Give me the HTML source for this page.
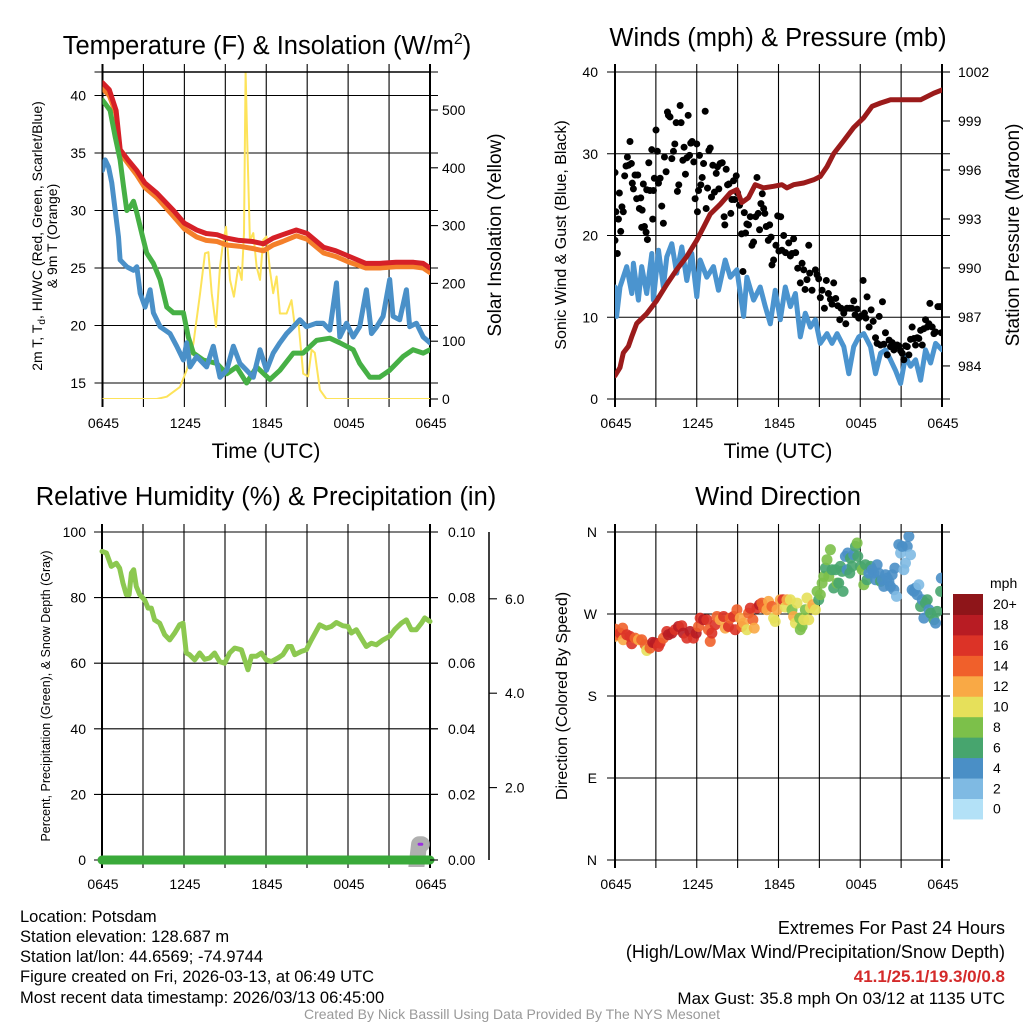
<!DOCTYPE html>
<html><head><meta charset="utf-8"><title>Mesonet Station Meteogram</title>
<style>
html,body{margin:0;padding:0;background:#fff;}
svg{display:block;font-family:"Liberation Sans",Arial,sans-serif;}
</style></head>
<body>
<svg id="chart" xmlns="http://www.w3.org/2000/svg" width="1024" height="1024" viewBox="0 0 1024 1024">
<defs>
<clipPath id="c1"><rect x="102.5" y="72" width="327.5" height="327"/></clipPath>
<clipPath id="c2"><rect x="615" y="72" width="327" height="327"/></clipPath>
<clipPath id="c3"><rect x="96" y="532" width="342" height="335"/></clipPath>
<clipPath id="c4"><rect x="615" y="532" width="327" height="328"/></clipPath>
</defs>
<rect width="1024" height="1024" fill="#fff"/>
<g id="grids"></g>
<g id="marks"></g>
<g id="axes"></g>

<!-- titles -->
<text x="267" y="54" font-size="25.5" text-anchor="middle">Temperature (F) &amp; Insolation (W/m<tspan font-size="16" dy="-10">2</tspan><tspan dy="10">)</tspan></text>
<text x="778" y="46" font-size="25.5" text-anchor="middle">Winds (mph) &amp; Pressure (mb)</text>
<text x="266" y="505" font-size="25.5" text-anchor="middle">Relative Humidity (%) &amp; Precipitation (in)</text>
<text x="778" y="505" font-size="25.5" text-anchor="middle">Wind Direction</text>

<!-- axis titles -->
<text x="266" y="458" font-size="21" text-anchor="middle">Time (UTC)</text>
<text x="778" y="458" font-size="21" text-anchor="middle">Time (UTC)</text>
<g transform="translate(42,236) rotate(-90)">
<text x="0" y="0" font-size="14" text-anchor="middle">2m T, T<tspan font-size="10" dy="3">d</tspan><tspan dy="-3">, HI/WC (Red, Green, Scarlet/Blue)</tspan></text>
<text x="0" y="15" font-size="14" text-anchor="middle">&amp; 9m T (Orange)</text>
</g>
<text transform="translate(501,235) rotate(-90)" font-size="19" text-anchor="middle">Solar Insolation (Yellow)</text>
<text transform="translate(566,235) rotate(-90)" font-size="16" text-anchor="middle">Sonic Wind &amp; Gust (Blue, Black)</text>
<text transform="translate(1019,235) rotate(-90)" font-size="19" text-anchor="middle">Station Pressure (Maroon)</text>
<text transform="translate(50,696) rotate(-90)" font-size="12.5" text-anchor="middle">Percent, Precipitation (Green), &amp; Snow Depth (Gray)</text>
<text transform="translate(567,696) rotate(-90)" font-size="16" text-anchor="middle">Direction (Colored By Speed)</text>

<!-- colorbar -->
<text x="990" y="588" font-size="14">mph</text>
<g id="colorbar"></g>

<!-- footer -->
<g font-size="16.5">
<text x="20" y="922">Location: Potsdam</text>
<text x="20" y="942">Station elevation: 128.687 m</text>
<text x="20" y="962">Station lat/lon: 44.6569; -74.9744</text>
<text x="20" y="982">Figure created on Fri, 2026-03-13, at 06:49 UTC</text>
<text x="20" y="1003">Most recent data timestamp: 2026/03/13 06:45:00</text>
</g>
<g font-size="18" text-anchor="end">
<text x="1005" y="934">Extremes For Past 24 Hours</text>
<text x="1005" y="958">(High/Low/Max Wind/Precipitation/Snow Depth)</text>
<text x="1005" y="982" fill="#d42a2a" font-weight="bold" font-size="17">41.1/25.1/19.3/0/0.8</text>
<text x="1005" y="1004" font-size="17">Max Gust: 35.8 mph On 03/12 at 1135 UTC</text>
</g>
<text x="512" y="1019" font-size="14" fill="#999" text-anchor="middle">Created By Nick Bassill Using Data Provided By The NYS Mesonet</text>
</svg>

<script>
// ---------- DATA ----------
const xTickLabels = ["0645","1245","1845","0045","0645"];
const xTickHours = [0,6,12,18,24];
const tempTicks = [15,20,25,30,35,40];
const solarTicks = [0,100,200,300,400,500];
const windTicks = [0,10,20,30,40];
const pressTicks = [984,987,990,993,996,999,1002];
const rhTicks = [0,20,40,60,80,100];
const precipTickLabels = ["0.00","0.02","0.04","0.06","0.08","0.10"];
const snowTicks = [2,4,6];
const dirTicks = [0,90,180,270,360];
const dirTickLabels = ["N","E","S","W","N"];
const speedBinLabels = ["0","2","4","6","8","10","12","14","16","18","20+"];

const tempHours = [0,0.5,1,1.3,1.8,2.5,3.1,4,5.2,6,6.9,7.6,8.4,9.1,10,11,11.8,12.5,13.2,14.2,15,16.2,17.1,18.1,19.3,20.3,21.5,22.8,23.5,24];
const tempRed = [41.1,40.5,38.7,35.3,34.5,33.5,32.4,31.5,30,28.9,28.3,28.0,27.9,27.6,27.4,27.3,27.1,27.6,27.9,28.3,28.0,26.8,26.5,26.0,25.4,25.4,25.5,25.5,25.4,25.0];
const tempOrange = [40.6,40.0,38.4,35.0,34.2,33.1,32.0,31.1,29.5,28.4,27.7,27.4,27.3,27.0,26.9,26.7,26.5,27.0,27.3,27.8,27.5,26.3,26.0,25.5,25.0,25.0,25.1,25.1,25.0,24.6];

const hiHours = [0,0.56,0.93,1.29,1.54,1.78,2.02,2.27,2.51,2.88,3.24,3.73,4.22,4.71,5.2,5.93,6.29,6.66,7.39,8.37,9.1,9.83,10.56,11.29,12.27,13,13.98,14.7,15.68,16.66,17.39,18.37,18.85,19.59,20.3,21.05,22.02,22.76,23.5,24];
const hiVals = [39.6,38.7,36.4,34.4,32.1,30.0,30.3,30.8,29.8,28.0,26.3,25.4,24.0,21.6,21.1,21.1,19.0,17.6,17.0,16.7,15.8,16.4,15.0,16.4,15.3,16.1,17.6,17.6,18.7,18.9,18.5,17.9,16.7,15.5,15.5,16.1,17.3,17.9,17.6,17.9];

const tdHours = [0,0.2,0.44,0.68,0.93,1.17,1.29,1.78,2.27,2.51,2.76,3.12,3.49,3.73,4.22,4.95,5.44,5.93,6.17,6.41,6.9,7.63,8.12,8.61,9.1,9.59,10.07,10.56,11.05,11.54,12.02,12.51,13,13.49,13.98,14.46,14.95,15.68,16.17,16.66,17.15,17.39,17.88,18.37,18.85,19.34,19.71,20.1,20.56,21.05,21.29,21.78,22.27,22.51,23,23.5,24];
const tdVals = [33.5,34.4,33.8,32.4,30.0,27.7,25.7,25.1,24.8,25.1,22.8,21.6,23.1,21.1,19.9,19.3,18.2,17.0,18.5,16.4,17.3,16.4,18.2,15.5,16.1,18.2,16.7,16.1,15.5,17.9,16.1,17.6,18.5,19.3,19.9,20.5,19.9,20.2,20.2,19.6,23.7,19.0,20.2,19.0,19.9,23.1,19.3,19.9,20.8,24.0,20.8,20.5,23.1,19.9,20.2,19.0,18.5];

const solarHours = [0,3.98,4.71,5.68,6.17,6.66,7.15,7.51,7.76,8.0,8.32,8.61,8.8,9.05,9.34,9.63,9.95,10.2,10.37,10.49,10.61,10.8,11.05,11.29,11.54,11.78,12.02,12.27,12.51,12.76,13.0,13.49,13.85,14.1,14.34,14.71,15.07,15.32,15.56,15.93,16.41,24];
const solarVals = [0,0,4,21,50,96,183,252,254,183,125,229,264,298,206,177,229,206,287,566,442,275,287,229,206,275,281,223,183,212,148,148,171,125,137,44,39,85,80,16,0,0];

const pressHours = [0,0.37,0.61,0.98,1.23,1.59,2.33,3.06,3.8,4.53,5.27,6.0,6.5,6.99,7.72,8.46,8.95,9.31,9.8,10.29,10.91,11.64,12.25,12.62,13.11,13.85,14.58,15.07,15.56,16.05,16.79,17.52,18.26,18.87,19.49,20.22,21.08,21.69,22.43,23.4,24];
const pressVals = [983.4,983.9,984.8,985.2,985.8,986.6,987.2,988.0,989.0,989.9,990.7,991.7,992.5,993.3,993.9,994.6,994.8,994.0,994.3,995.1,994.9,995.0,995.1,994.9,995.1,995.2,995.4,995.6,996.2,997.0,997.8,998.6,999.2,999.9,1000.1,1000.3,1000.3,1000.3,1000.3,1000.7,1000.9];

const windHours = [0,0.12,0.37,0.86,1.23,1.35,1.72,1.96,2.33,2.7,2.82,3.19,3.55,3.8,4.17,4.53,4.9,5.27,5.64,6.0,6.25,6.74,7.23,7.6,8.09,8.46,8.95,9.44,9.68,10.17,10.66,11.03,11.4,11.76,12.13,12.5,12.87,13.24,13.6,13.97,14.34,14.71,15.07,15.56,15.93,16.3,16.79,17.16,17.52,17.89,18.26,18.75,19.12,19.49,19.85,20.22,20.59,20.96,21.32,21.69,22.06,22.43,22.79,23.16,23.53,24];
const windVals = [13.7,10.1,13.7,16.2,12.9,16.6,12.1,16.2,12.9,17.8,12.1,18.2,13.7,17.4,19.0,15.4,18.6,14.5,17.8,12.5,17.0,14.9,16.2,13.3,17.0,14.9,15.8,10.1,14.9,12.1,13.7,11.3,9.2,13.3,9.7,13.7,11.3,12.9,7.6,10.5,8.8,9.7,6.8,8.0,6.8,8.0,6.4,3.1,6.4,7.6,8.0,6.4,3.1,5.6,6.0,4.8,3.5,1.9,5.2,4.0,4.8,2.3,6.0,4.4,6.8,6.0];

const gustHours = [0,0.07,0,0.17,0.32,0.25,0.42,0.51,0.61,0.71,0.81,0.91,1.0,1.1,1.2,1.27,1.35,1.47,1.59,1.67,1.79,1.89,1.99,2.08,1.96,2.16,2.28,2.38,2.33,2.48,2.57,2.7,2.77,2.82,2.89,3.01,3.11,3.19,3.31,3.43,3.55,3.63,3.75,3.85,3.92,4.04,4.17,4.29,4.39,4.49,4.58,4.68,4.78,4.85,4.98,5.07,5.17,5.27,5.37,5.47,5.56,5.66,5.78,5.88,6.0,6.05,6.13,6.2,6.3,6.4,6.5,6.62,6.69,6.79,6.89,6.99,7.08,7.18,7.3,7.43,7.52,7.62,7.72,7.87,8.01,8.06,8.16,8.26,8.36,8.5,8.58,8.7,8.77,8.9,9.0,9.14,9.29,9.39,9.49,9.58,9.68,9.8,9.93,10.05,10.17,10.32,10.42,10.51,10.61,10.71,10.81,10.91,11.0,11.1,11.25,11.35,11.45,11.52,11.64,11.81,11.94,12.03,12.16,12.25,12.38,12.52,12.75,12.87,12.99,13.11,13.26,13.41,13.6,13.73,13.85,13.95,14.09,14.22,14.29,14.46,14.71,14.83,14.95,15.07,15.2,15.37,15.51,15.66,15.81,15.93,16.05,16.2,16.35,16.5,16.59,16.79,16.94,17.03,17.23,17.38,17.52,17.62,17.77,17.89,18.01,18.21,18.31,18.41,18.5,18.65,18.8,18.95,19.12,19.24,19.39,19.49,19.63,19.73,19.85,19.98,20.12,20.22,20.34,20.47,20.59,20.71,20.83,20.96,21.08,21.2,21.32,21.45,21.57,21.69,21.81,21.94,22.06,22.18,22.3,22.43,22.55,22.67,22.79,22.92,23.04,23.11,23.28,23.41,23.53,23.7,23.85,23.95];
const gustMph = [27.7,22.9,19.4,17.8,25.2,22.0,20.5,23.5,22.9,27.3,28.5,29.6,28.6,31.5,28.8,26.4,25.7,27.4,24.5,27.4,23.3,24.6,23.1,26.3,21.0,21.1,20.4,19.5,25.6,28.9,25.5,30.5,22.0,25.5,27.0,32.9,30.3,26.4,27.0,23.6,21.5,29.6,27.8,35.1,34.7,34.5,29.4,30.3,31.2,33.8,25.4,26.2,35.9,33.8,29.2,30.8,27.5,29.5,34.7,29.8,31.3,31.5,29.0,24.5,31.2,22.9,25.5,29.8,26.2,27.1,28.8,35.2,23.3,25.8,30.4,30.7,24.7,28.6,25.3,27.6,28.4,25.7,28.8,28.9,22.3,21.3,28.1,26.2,26.3,22.7,24.4,26.7,24.4,27.3,25.2,23.7,20.2,15.6,22.8,20.3,21.4,21.3,22.3,18.8,19.2,22.3,27.1,22.7,20.7,23.9,25.1,23.3,22.7,21.1,19.4,21.3,19.8,16.4,17.0,18.8,22.4,18.1,22.3,18.2,20.0,17.9,19.1,17.5,17.8,19.6,17.9,16.0,14.2,16.6,15.8,13.4,14.6,18.8,15.4,13.3,15.8,15.2,14.7,12.4,13.3,11.1,14.5,12.9,12.2,11.6,14.2,12.3,11.4,9.7,11.1,10.5,9.2,11.1,11.1,11.1,12.0,10.3,11.0,9.9,10.1,14.5,10.5,9.9,12.5,8.8,10.9,9.5,7.5,6.8,10.1,6.6,11.9,6.7,8.1,5.4,7.2,6.4,6.9,6.0,6.4,6.6,6.5,5.9,5.6,4.8,6.5,6.4,5.4,7.3,8.8,7.4,6.6,7.5,7.4,8.4,6.6,8.6,9.7,8.8,9.2,11.7,8.8,8.0,8.2,11.3,11.3,8.1];

const rhHours = [0,0.32,0.68,1.05,1.29,1.54,1.78,1.98,2.15,2.32,2.51,2.76,3.12,3.37,3.61,3.85,4.22,4.59,4.95,5.32,5.68,5.93,6.17,6.41,6.78,7.15,7.51,7.88,8.24,8.61,8.98,9.34,9.71,10.2,10.68,10.93,11.29,11.66,12.02,12.39,12.88,13.24,13.61,13.85,14.1,14.59,14.95,15.32,15.93,16.41,16.78,17.15,17.63,18.0,18.24,18.61,18.98,19.34,19.71,20.07,20.56,21.05,21.41,21.9,22.27,22.63,23.0,23.37,23.61,24];
const rhVals = [94.1,93.6,89.5,90.5,89.0,84.4,80.9,80.9,87.5,88.5,83.4,80.9,79.3,76.8,76.8,73.2,72.2,68.7,67.1,69.2,71.7,72.2,63.1,62.6,61.0,63.1,61.2,61.6,63.1,60.5,60.0,63.1,64.6,64.1,58.0,62.1,62.1,63.1,61.0,60.5,61.6,62.6,65.1,65.1,62.6,63.6,64.1,67.1,71.7,70.7,71.2,72.4,71.4,71.2,69.2,70.2,67.6,65.1,66.1,65.6,67.1,68.2,70.2,72.2,73.2,70.2,70.2,72.2,73.8,72.7];
const precipHours = [0,24];
const precipVals = [0,0];
const snowHours = [23.0,23.2,23.4];
const snowVals = [0.3,0.8,0.8];

const dirHours = [0,0,0.12,0.37,0.56,0.61,0.86,1.1,1.23,1.47,1.72,1.96,2.21,2.33,2.57,2.77,2.94,3.19,3.31,3.55,3.8,3.92,4.17,4.41,4.66,4.9,5.02,5.27,5.51,5.76,5.96,6.13,6.25,6.5,6.74,6.86,6.99,7.11,7.35,7.48,7.72,7.97,8.09,8.33,8.46,8.7,8.82,8.95,9.19,9.31,9.44,9.68,9.8,9.93,10.12,10.22,10.42,10.61,10.78,10.91,11.15,11.27,11.52,11.64,11.76,11.89,12.13,12.33,12.5,12.62,12.87,12.99,13.11,13.24,13.36,13.55,13.6,13.73,13.85,13.97,14.09,14.22,14.34,14.53,14.71,14.83,14.95,15.07,15.2,15.32,15.44,15.56,15.69,15.81,15.93,16.05,16.18,16.3,16.42,16.54,16.67,16.74,16.91,17.03,17.08,17.23,17.28,17.4,17.52,17.65,17.77,17.82,18.01,18.14,18.26,18.38,18.5,18.63,18.75,18.87,19.0,19.12,19.24,19.36,19.49,19.61,19.73,19.85,19.98,20.1,20.22,20.34,20.47,20.54,20.66,20.83,20.96,21.08,21.2,21.32,21.45,21.57,21.69,21.81,21.94,22.06,22.18,22.3,22.43,22.55,22.67,22.79,22.92,23.04,23.16,23.41,23.53,23.65,23.9,23.95];
const dirDeg = [253.4,245.4,247.2,249.0,254.5,241.7,247.2,245.4,237.3,243.5,241.7,241.7,236.2,230.0,232.5,238.8,238.0,234.4,238.0,243.5,250.8,247.2,249.0,252.7,256.3,257.1,249.0,243.5,250.8,243.5,249.0,256.3,265.5,263.7,263.7,252.7,239.9,249.0,258.2,267.3,263.7,267.3,254.5,256.3,265.5,267.3,252.7,274.7,265.5,256.3,260.0,252.7,271.0,276.5,263.7,254.5,276.5,280.1,282.0,276.5,274.7,283.8,278.3,265.5,261.8,274.7,285.6,285.6,277.6,285.6,285.6,274.7,267.3,260.0,282.0,265.5,252.7,256.3,263.7,274.7,287.5,263.7,276.5,280.1,274.7,294.8,285.6,291.1,303.9,311.3,320.4,329.6,311.3,340.6,318.6,298.5,318.6,303.9,303.9,322.3,316.8,294.8,333.2,318.6,336.9,314.9,331.4,322.3,335.1,344.2,347.9,333.2,322.3,318.6,302.1,324.1,307.6,314.9,322.3,318.6,314.9,307.6,324.1,314.9,305.8,307.6,300.3,313.1,309.4,305.8,300.3,313.1,296.6,320.4,289.3,346.1,336.9,344.2,318.6,325.9,344.2,355.2,335.1,296.6,294.8,298.5,291.1,302.1,278.3,285.6,265.5,282.0,285.6,274.7,271.0,263.7,260.0,272.9,294.8,309.4];
const dirSpeed = [14.5,12.5,14.5,16.5,14.5,12.5,16.5,16.5,16.5,14.5,12.5,14.5,14.5,10.5,14.5,18.5,18.5,16.5,16.5,14.5,16.5,18.5,18.5,16.5,18.5,16.5,18.5,16.5,18.5,16.5,18.5,14.5,16.5,18.5,16.5,14.5,14.5,16.5,16.5,14.5,12.5,16.5,12.5,16.5,14.5,16.5,16.5,14.5,12.5,14.5,12.5,10.5,14.5,16.5,14.5,12.5,16.5,18.5,14.5,14.5,12.5,12.5,14.5,10.5,10.5,12.5,12.5,16.5,10.5,12.5,10.5,8.5,12.5,10.5,10.5,8.5,8.5,8.5,10.5,8.5,10.5,10.5,10.5,12.5,10.5,8.5,6.5,8.5,8.5,8.5,6.5,8.5,8.5,8.5,6.5,6.5,6.5,8.5,6.5,6.5,6.5,6.5,4.5,4.5,4.5,6.5,6.5,6.5,4.5,6.5,8.5,6.5,6.5,8.5,8.5,6.5,6.5,4.5,6.5,4.5,4.5,4.5,4.5,4.5,6.5,4.5,4.5,4.5,4.5,4.5,4.5,4.5,4.5,4.5,2.5,4.5,2.5,4.5,2.5,2.5,4.5,4.5,2.5,4.5,4.5,4.5,4.5,2.5,6.5,4.5,4.5,6.5,6.5,4.5,6.5,6.5,4.5,6.5,6.5,4.5];

// ---------- HELPERS ----------
const NS = "http://www.w3.org/2000/svg";
const grids = document.getElementById('grids');
const marks = document.getElementById('marks');
const axes = document.getElementById('axes');
function mk(tag, parent, attrs){
  const e = document.createElementNS(NS, tag);
  for (const k in attrs) e.setAttribute(k, attrs[k]);
  parent.appendChild(e);
  return e;
}
function xScale(L,R){ return h => L + h/24*(R-L); }
const P1 = {L:102.5,R:430,T:72,B:399};
const P2 = {L:615,R:942,T:72,B:399};
const P3 = {L:102,R:430,T:532,B:860};
const P4 = {L:615,R:942,T:532,B:860};
const x1 = xScale(P1.L,P1.R), x2 = xScale(P2.L,P2.R), x3 = xScale(P3.L,P3.R), x4 = xScale(P4.L,P4.R);
const yT = t => 383 - (t-15)*11.5;
const yS = w => 399 - w*0.578;
const yW = m => 399 - m*8.175;
const yP = p => 72 + (1002-p)*16.33;
const yRH = r => 860 - r*3.28;
const yPr = v => 860 - v*3280;
const ySn = s => 882 - s*47.2;
const yD = d => 860 - d*0.9111;

function panelFrame(P, name, hLines){
  for (let h=0; h<=24; h+=3){
    const x = xScale(P.L,P.R)(h);
    const l = mk('line', grids, {x1:x,y1:P.T-8,x2:x,y2:P.B+8,stroke:'#000','stroke-width':(h===0||h===24)?2:1.1});
    
    
  }
  hLines.forEach(y=>{
    const l = mk('line', grids, {x1:P.L-8,y1:y,x2:P.R+8,y2:y,stroke:'#000','stroke-width':1.1});
    
    
  });
  xTickHours.forEach((h,i)=>{
    const t = mk('text', axes, {x:xScale(P.L,P.R)(h)+1,y:P.B+29,'font-size':14,'text-anchor':'middle'});
    t.textContent = xTickLabels[i];
    
    
  });
}
function leftLabels(vals, yf, x, labels){
  vals.forEach((v,i)=>{
    const t = mk('text', axes, {x:x,y:yf(v)+5,'font-size':14,'text-anchor':'end'});
    t.textContent = labels ? labels[i] : v;
    
    
  });
}
function rightLabels(vals, yf, x, labels, tickX){
  vals.forEach((v,i)=>{
    const t = mk('text', axes, {x:x,y:yf(v)+5,'font-size':14,'text-anchor':'start'});
    t.textContent = labels ? labels[i] : v;
    
    
    if (tickX){
      const l = mk('line', axes, {x1:tickX,y1:yf(v),x2:tickX+8,y2:yf(v),stroke:'#000','stroke-width':1.1});
      
      
    }
  });
}
function polyline(hours, vals, xf, yf, color, width, clip, name){
  const pts = hours.map((h,i)=> xf(h).toFixed(1)+','+yf(vals[i]).toFixed(1)).join(' ');
  const p = mk('polyline', marks, {points:pts,fill:'none',stroke:color,'stroke-width':width,'stroke-linejoin':'round','stroke-linecap':'round','clip-path':'url(#'+clip+')'});
  
  
  return p;
}

// ---------- PANEL 1 ----------
panelFrame(P1,'temp',tempTicks.map(yT).concat([P1.T]));
leftLabels(tempTicks,yT,86);
rightLabels(solarTicks,yS,442,null,P1.R);
mk('line',axes,{x1:P1.L,y1:P1.T,x2:P1.R,y2:P1.T,stroke:'#000','stroke-width':1.5});
polyline(solarHours,solarVals,x1,yS,'#fde35a',2,'c1','solar-insolation-line');
polyline(tempHours,tempOrange,x1,yT,'#f47f2a',5,'c1','9m-temperature-line');
polyline(tempHours,tempRed,x1,yT,'#d62027',5,'c1','2m-temperature-line');
polyline(hiHours,hiVals,x1,yT,'#46b045',5,'c1','windchill-line');
polyline(tdHours,tdVals,x1,yT,'#4a90c8',5,'c1','dewpoint-line');

// ---------- PANEL 2 ----------
panelFrame(P2,'wind',windTicks.map(yW));
leftLabels(windTicks,yW,598);
rightLabels(pressTicks,yP,958,null,P2.R);
polyline(windHours,windVals,x2,yW,'#4b94cf',5,'c2','sonic-wind-line');
gustHours.forEach((h,i)=>{
  const c = mk('circle', marks, {cx:x2(h),cy:yW(gustMph[i]),r:3.5,fill:'#000','clip-path':'url(#c2)'});
  
  
});
polyline(pressHours,pressVals,x2,yP,'#9b1b1b',5,'c2','station-pressure-line');

// ---------- PANEL 3 ----------
panelFrame(P3,'rh',rhTicks.map(yRH));
leftLabels(rhTicks,yRH,86);
rightLabels(rhTicks,yRH,448,precipTickLabels,P3.R);
mk('line',axes,{x1:489,y1:P3.T,x2:489,y2:P3.B,stroke:'#000','stroke-width':1.5});
snowTicks.forEach(s=>{
  const l = mk('line',axes,{x1:489,y1:ySn(s),x2:497,y2:ySn(s),stroke:'#000','stroke-width':1.1});
  
  
  const t = mk('text',axes,{x:505,y:ySn(s)+5,'font-size':14});
  t.textContent = s.toFixed(1);
  
  
});
polyline(snowHours,snowVals,x3,ySn,'#b0b0b0',16,'c3','snow-depth-line');
polyline(snowHours.slice(1),snowVals.slice(1),x3,ySn,'#9b30e0',3,'c3','snow-depth-recent-line');
polyline(precipHours,precipVals,x3,yPr,'#3aaa3a',9,'c3','precipitation-line');
polyline(rhHours,rhVals,x3,yRH,'#8cc850',5,'c3','relative-humidity-line');

// ---------- PANEL 4 ----------
panelFrame(P4,'dir',dirTicks.map(yD));
leftLabels(dirTicks,yD,597,dirTickLabels);
const binColors = ['#b3e1f7','#7fbae3','#4a8fc6','#47a56e','#7cc04a','#e6e05a','#f9a945','#f0602b','#dc3327','#b81c23','#8e1519'];
function speedColor(v){ return binColors[Math.max(0,Math.min(10,Math.floor(v/2)))]; }
dirHours.forEach((h,i)=>{
  const c = mk('circle', marks, {cx:x4(h),cy:yD(dirDeg[i]),r:5.5,fill:speedColor(dirSpeed[i]),'fill-opacity':0.9,'clip-path':'url(#c4)'});
  
  
});
const cb = document.getElementById('colorbar');
const boxH = 20.45;
speedBinLabels.forEach((lab,i)=>{
  const y = 594 + (10-i)*boxH;
  const r = mk('rect', cb, {x:953,y:y,width:30,height:boxH+0.5,fill:binColors[i]});
  
  
  const t = mk('text', cb, {x:993,y:y+boxH/2+5,'font-size':14});
  t.textContent = lab;
  
  
});
</script>
</body></html>
